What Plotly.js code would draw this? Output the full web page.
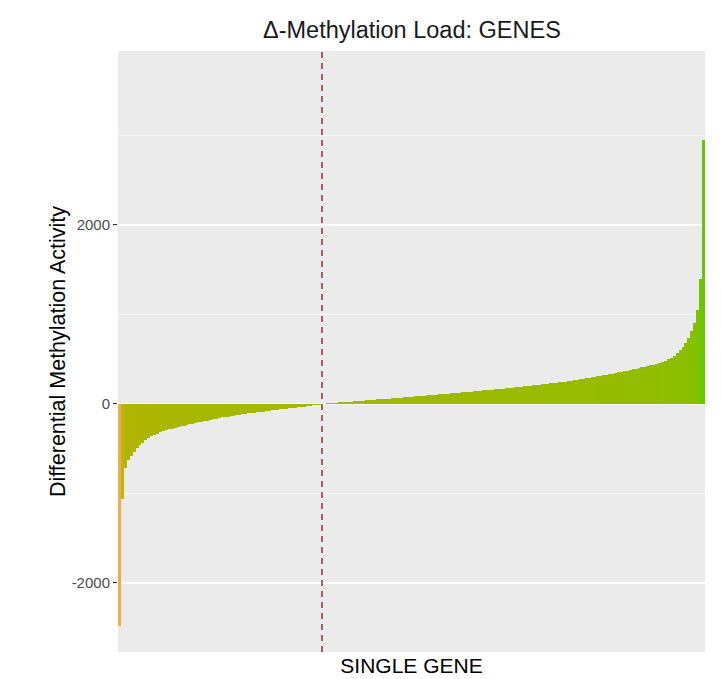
<!DOCTYPE html>
<html>
<head>
<meta charset="utf-8">
<script src="https://cdn.plot.ly/plotly-3.0.1.min.js"></script>
<style>html,body{margin:0;padding:0;background:#fff;}#chart{width:721px;height:679px;}</style>
</head>
<body>
<div id="chart"></div>
<script>
// Differential methylation activity per gene, sorted ascending
const negativeValues = [
  -2480, -1060, -720, -625, -585, -540, -495, -460, -432, -405,
  -382, -362, -346, -331, -317, -305, -294, -284, -274, -265,
  -257, -249, -241, -234, -227, -220, -213, -206, -199, -192,
  -185, -178, -171, -164, -157, -150, -145, -140, -135, -130,
  -125, -120, -115, -110, -105, -100, -96, -92, -88, -84,
  -80, -76, -72, -68, -64, -60, -56, -52, -48, -44,
  -40, -36, -32, -28, -24, -20, -16, -12, -8, -4
];
const positiveValues = [
  3, 6, 9, 11, 14, 17, 19, 22, 25, 27,
  30, 32, 35, 38, 40, 43, 46, 48, 51, 54,
  56, 59, 61, 64, 67, 69, 72, 75, 77, 80,
  83, 85, 88, 91, 94, 96, 99, 102, 105, 107,
  110, 113, 116, 118, 121, 124, 127, 130, 133, 136,
  139, 142, 145, 148, 151, 154, 157, 160, 163, 166,
  169, 172, 176, 180, 183, 187, 190, 194, 197, 201,
  204, 208, 212, 215, 219, 223, 227, 231, 235, 239,
  243, 247, 251, 255, 260, 265, 270, 275, 280, 286,
  291, 297, 302, 308, 314, 320, 326, 333, 340, 347,
  355, 361, 367, 373, 380, 386, 393, 400, 408, 415,
  423, 431, 440, 449, 458, 471, 485, 499, 514, 540,
  570, 603, 640, 685, 740, 815, 900, 1050, 1400, 2950
];
const methylationValues = negativeValues.concat(positiveValues);
const geneRank = methylationValues.map((v, i) => i);
const cutIndex = 69; // position of the dashed marker (zero crossing)
const yTickValues = [-2000, 0, 2000];
const yTickLabels = ["-2000", "0", "2000"];

const trace = {
  type: 'bar',
  x: geneRank,
  y: methylationValues,
  marker: {
    color: methylationValues,
    cmin: -2480,
    cmax: 2950,
    colorscale: [
      [0, '#EDAE45'],
      [0.33, '#B2B500'],
      [0.457, '#A2B900'],
      [0.55, '#8FBE00'],
      [0.7, '#76C400'],
      [1, '#66C800']
    ],
    line: {width: 0}
  },
  hoverinfo: 'x+y'
};

const layout = {
  width: 721,
  height: 679,
  margin: {l: 118, r: 16, t: 51, b: 27},
  paper_bgcolor: '#ffffff',
  plot_bgcolor: '#EBEBEB',
  bargap: 0,
  showlegend: false,
  font: {family: 'Liberation Sans, Arial, sans-serif'},
  title: {
    text: 'Δ-Methylation Load: GENES',
    font: {size: 23.5, color: '#1a1a1a', family: 'Liberation Sans, Arial, sans-serif'},
    x: 0.5713, xanchor: 'center',
    y: 0.956, yanchor: 'middle'
  },
  xaxis: {
    range: [-0.5, methylationValues.length - 0.5],
    showticklabels: false,
    ticks: '',
    showgrid: false,
    zeroline: false,
    showline: false,
    title: {text: 'SINGLE GENE', font: {size: 21, color: '#000000'}, standoff: 6}
  },
  yaxis: {
    range: [-2771, 3944],
    tickvals: yTickValues,
    ticktext: yTickLabels,
    ticks: 'outside',
    ticklen: 4,
    tickwidth: 1,
    tickcolor: '#333333',
    tickfont: {size: 15, color: '#4D4D4D'},
    gridcolor: '#ffffff',
    gridwidth: 1.2,
    minor: {dtick: 1000, tick0: 0, showgrid: true, gridcolor: '#ffffff', gridwidth: 0.6, ticks: ''},
    zeroline: false,
    showline: false,
    title: {text: 'Differential Methylation Activity', font: {size: 21.5, color: '#000000'}, standoff: 0}
  },
  shapes: [{
    type: 'line',
    xref: 'x', yref: 'paper',
    x0: cutIndex, x1: cutIndex, y0: 0, y1: 1,
    line: {color: '#9B2A2E', width: 1.5, dash: '6px,5px'}
  }]
};

Plotly.newPlot('chart', [trace], layout, {displayModeBar: false, staticPlot: true});
</script>
</body>
</html>
